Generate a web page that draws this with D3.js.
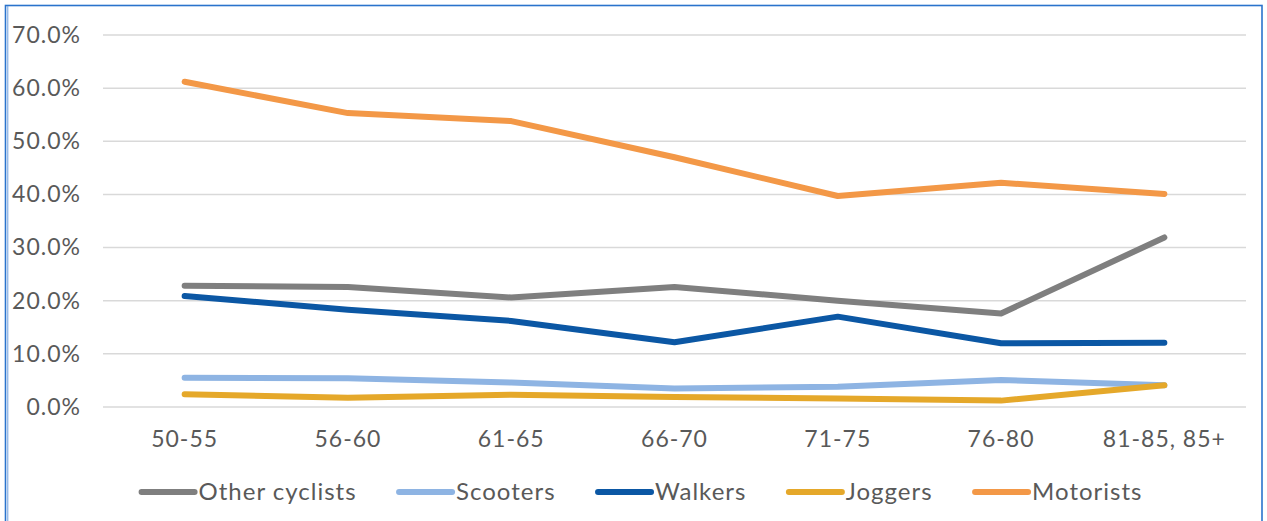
<!DOCTYPE html>
<html>
<head>
<meta charset="utf-8">
<script src="https://cdn.jsdelivr.net/npm/d3@7"></script>
<style>
  html, body { margin: 0; padding: 0; background: #fff; }
  svg { display: block; }
  text { font-family: Lato, "Open Sans", sans-serif; fill: #595959; }
</style>
</head>
<body>
<svg id="chart" width="1267" height="521"></svg>
<script>
// Age bands along the x axis
const ageGroups = ["50-55", "56-60", "61-65", "66-70", "71-75", "76-80", "81-85, 85+"];

// Share of each road-user type per age band (%)
const otherCyclists = [22.8, 22.6, 20.6, 22.6, 20.0, 17.6, 31.9];
const scooters      = [5.5, 5.4, 4.6, 3.5, 3.8, 5.1, 4.1];
const walkers       = [20.9, 18.3, 16.2, 12.2, 17.0, 12.0, 12.1];
const joggers       = [2.4, 1.75, 2.3, 1.9, 1.6, 1.2, 4.1];
const motorists     = [61.2, 55.3, 53.8, 47.0, 39.7, 42.2, 40.1];

const seriesNames = ["Other cyclists", "Scooters", "Walkers", "Joggers", "Motorists"];
const seriesColors = ["#7f7f7f", "#8eb4e3", "#0b57a4", "#e5a82a", "#f39847"];
const yTicks = [0, 10, 20, 30, 40, 50, 60, 70];

const series = [otherCyclists, scooters, walkers, joggers, motorists].map((vals, i) => ({
  name: seriesNames[i], color: seriesColors[i], values: vals
}));

const svg = d3.select("#chart");
const W = 1267, H = 521;
const plot = { left: 103, right: 1246, top: 35, bottom: 407 };

// Outer frame
svg.append("rect")
  .attr("x", 5.5).attr("y", 5.5)
  .attr("width", 1256.5).attr("height", 530)
  .attr("fill", "none").attr("stroke", "#2a73cc").attr("stroke-width", 1.6);
svg.append("line")
  .attr("x1", 7.8).attr("x2", 7.8).attr("y1", 6).attr("y2", H)
  .attr("stroke", "#6d9ede").attr("stroke-width", 1);

const x = d3.scaleBand().domain(ageGroups).range([plot.left, plot.right]).paddingInner(0).paddingOuter(0);
const y = d3.scaleLinear().domain([0, 70]).range([plot.bottom, plot.top]);

// Horizontal gridlines
svg.append("g").selectAll("line").data(yTicks).join("line")
  .attr("x1", plot.left).attr("x2", plot.right)
  .attr("y1", d => y(d)).attr("y2", d => y(d))
  .attr("stroke", "#d9d9d9").attr("stroke-width", 1.5);

// Y axis labels
const yAxis = d3.axisLeft(y).tickValues(yTicks).tickSize(0).tickPadding(0)
  .tickFormat(d => d.toFixed(1) + "%");
const gy = svg.append("g").attr("transform", "translate(81,0)").call(yAxis);
gy.select(".domain").remove();
gy.selectAll("text").attr("font-size", 23).attr("fill", "#595959")
  .style("letter-spacing", "1px")
  .style("font-family", "Lato, 'Open Sans', sans-serif");

// X axis labels
const xAxis = d3.axisBottom(x).tickSize(0).tickPadding(0);
const gx = svg.append("g").attr("transform", "translate(0,431)").call(xAxis);
gx.select(".domain").remove();
gx.selectAll("text").attr("font-size", 23).attr("fill", "#595959")
  .style("letter-spacing", "1px")
  .style("font-family", "Lato, 'Open Sans', sans-serif");

// Series lines
const line = d3.line()
  .x((d, i) => x(ageGroups[i]) + x.bandwidth() / 2)
  .y(d => y(d));

svg.append("g").selectAll("path").data(series).join("path")
  .attr("d", d => line(d.values))
  .attr("fill", "none")
  .attr("stroke", d => d.color)
  .attr("stroke-width", 6)
  .attr("stroke-linecap", "round")
  .attr("stroke-linejoin", "round");

// Legend
const legend = svg.append("g").attr("transform", "translate(0,492)");
const items = legend.selectAll("g").data(series).join("g");
items.append("line")
  .attr("x1", 3).attr("x2", 56).attr("y1", 0).attr("y2", 0)
  .attr("stroke", d => d.color).attr("stroke-width", 6).attr("stroke-linecap", "round");
items.append("text")
  .attr("x", 60).attr("y", 0).attr("dy", "0.35em")
  .attr("font-size", 24)
  .style("letter-spacing", "1px")
  .text(d => d.name);

const gap = 42.5;
let widths = [];
items.each(function () { widths.push(this.getBBox().width); });
const total = d3.sum(widths) + gap * (widths.length - 1);
let cx = 639 - total / 2;
items.attr("transform", (d, i) => {
  const t = `translate(${cx},0)`;
  cx += widths[i] + gap;
  return t;
});
</script>
</body>
</html>
